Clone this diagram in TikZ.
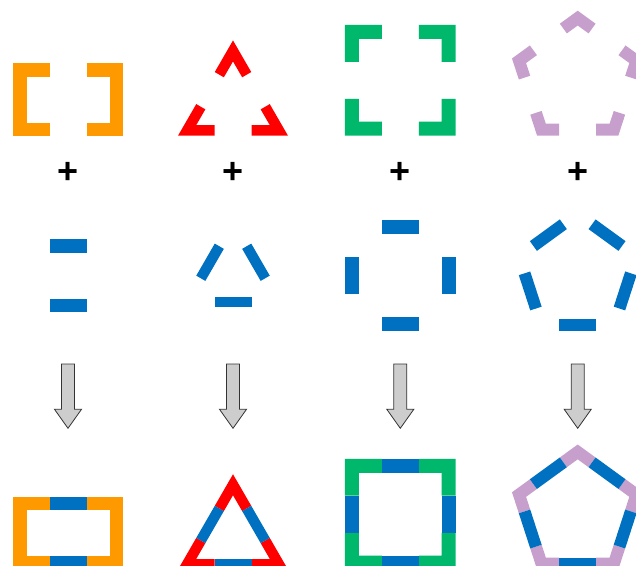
\documentclass[tikz,border=0pt]{standalone}
\usepackage{fontspec}
\setmainfont{Liberation Sans}
\usetikzlibrary{calc}

\definecolor{rectorange}{RGB}{255,153,0}
\definecolor{trired}{RGB}{255,0,0}
\definecolor{squaregreen}{RGB}{0,184,108}
\definecolor{pentalilac}{RGB}{199,159,205}
\definecolor{sideblue}{RGB}{0,112,192}
\definecolor{arrowgrey}{RGB}{205,205,205}

\begin{document}
\begin{tikzpicture}[x=1pt, y=-1pt,
    piece/.style={line width=#1, line join=miter},
    plus/.style={font=\fontsize{36}{36}\selectfont\bfseries, inner sep=0pt},
    downarrow/.style={draw=black!80, fill=arrowgrey, line width=0.8pt, line join=miter}]
  \useasboundingbox (0,0) rectangle (636,565);
  \clip (0,0) rectangle (636,565);

  \foreach \yy in {63, 496.5} {
    \draw[piece=13.5pt, rectorange] (49.5,\yy+6.75) -- (19.75,\yy+6.75) -- (19.75,\yy+66.25) -- (49.5,\yy+66.25);
    \draw[piece=13.5pt, rectorange] (86.5,\yy+6.75) -- (116.25,\yy+6.75) -- (116.25,\yy+66.25) -- (86.5,\yy+66.25);
  }
  \foreach \yy in {239, 496.5} {
    \draw[piece=13.5pt, sideblue] (49.5,\yy+6.75) -- (86.5,\yy+6.75);
    \draw[piece=13.5pt, sideblue] (49.5,\yy+66.25) -- (86.5,\yy+66.25);
  }

  \foreach \ns/\cx/\Rout/\lw/\ang/\clr in {3/233/63.51/10.5/270/trired, 4/400.3/78.3/14/45/squaregreen, 5/577.7/69.1/12/270/pentalilac} {
    \pgfmathsetmacro{\rin}{\Rout*cos(180/\ns)}
    \pgfmathsetmacro{\rc}{\Rout-\lw/2/cos(180/\ns)}
    \pgfmathsetmacro{\fr}{0.5-18.5/(2*\rc*sin(180/\ns))}
    \pgfmathtruncatemacro{\nn}{\ns+1}
    \foreach \cy in {135.7-\rin, 569.5-\rin} {
      \foreach \vi in {0,...,\nn} \coordinate (v\vi) at ($(\cx,\cy)+(\ang+\vi*360/\ns:\rc)$);
      \foreach \vi [evaluate=\vi as \vp using int(\vi-1), evaluate=\vi as \vn using int(\vi+1)] in {1,...,\ns}
        \draw[piece=\lw pt, \clr] ($(v\vi)!\fr!(v\vp)$) -- (v\vi) -- ($(v\vi)!\fr!(v\vn)$);
    }
    \foreach \cy in {275.5, 569.5-\rin} {
      \foreach \vi in {0,...,\nn} \coordinate (v\vi) at ($(\cx,\cy)+(\ang+\vi*360/\ns:\rc)$);
      \foreach \vi [evaluate=\vi as \vn using int(\vi+1)] in {1,...,\ns}
        \draw[piece=\lw pt, sideblue] ($(v\vi)!\fr!(v\vn)$) -- ($(v\vn)!\fr!(v\vi)$);
    }
  }

  \foreach \xx [count=\ci] in {68, 233, 400.3, 577.7} {
    \node[plus] (plus\ci) at (\xx,172.7) {+};
    \draw[downarrow] (\xx-6.5,364) -- (\xx+6.5,364) -- (\xx+6.5,409.3) -- (\xx+13.5,409.3) -- (\xx,428.3) -- (\xx-13.5,409.3) -- (\xx-6.5,409.3) -- cycle;
  }
\end{tikzpicture}
\end{document}
